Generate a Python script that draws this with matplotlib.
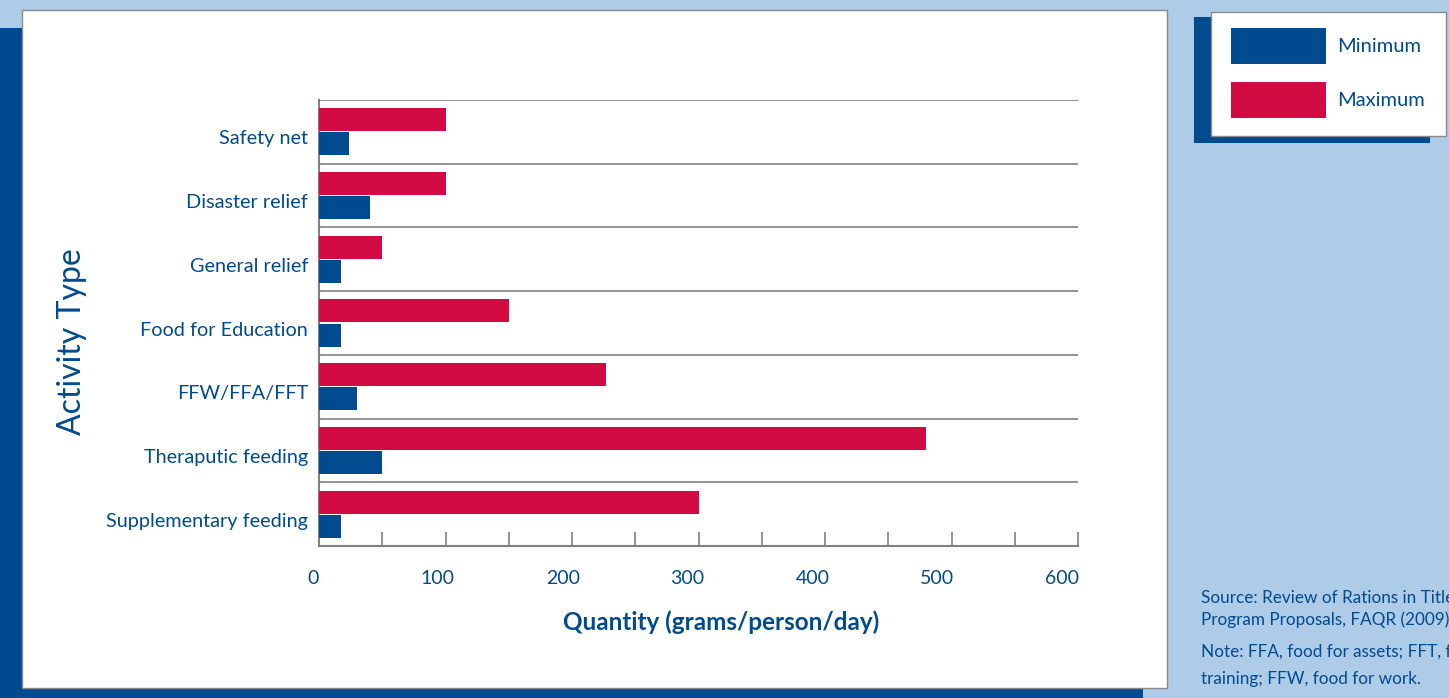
import matplotlib.pyplot as plt
from matplotlib.patches import Rectangle

# data (grams/person/day)
categories = ["Safety net", "Disaster relief", "General relief", "Food for Education",
              "FFW/FFA/FFT", "Theraputic feeding", "Supplementary feeding"]
minimum = [24, 40, 17, 17, 30, 50, 17]
maximum = [100, 100, 50, 150, 227, 480, 300]
xticks = [0, 100, 200, 300, 400, 500, 600]

BLUE = '#004a8f'
RED = '#d20c43'
BG = '#aecbe8'
W, H = 1449, 698

plt.rcParams['font.family'] = ['Lato', 'DejaVu Sans']

fig = plt.figure(figsize=(W / 100, H / 100), dpi=100, facecolor=BG)

def px_rect(x0, y0, x1, y1, **kw):
    # rectangle given in pixel coords (top-left origin)
    fig.patches.append(Rectangle((x0 / W, 1 - y1 / H), (x1 - x0) / W, (y1 - y0) / H,
                                 transform=fig.transFigure, **kw))

# panel with shadow
px_rect(0, 28, 1143, 698, facecolor=BLUE, edgecolor='none', zorder=0)
px_rect(22, 10, 1167, 688, facecolor='white', edgecolor='#8a8a8a', lw=1, zorder=1)

ax = fig.add_axes([319 / W, 1 - 546 / H, (1078 - 319) / W, (546 - 100) / H])
ax.set_facecolor('white')
ax.set_zorder(2)

y = list(range(len(categories)))
h = 0.36
ax.barh([v - 0.19 for v in y], maximum, height=h, color=RED, zorder=3)
ax.barh([v + 0.19 for v in y], minimum, height=h, color=BLUE, zorder=3)

ax.set_xlim(0, 600)
ax.set_ylim(len(categories) - 0.5, -0.5)

for b in [i - 0.5 for i in range(len(categories) + 1)]:
    ax.axhline(b, color='#808080', lw=1.2, zorder=2)

for s in ['top', 'right']:
    ax.spines[s].set_visible(False)
for s in ['left', 'bottom']:
    ax.spines[s].set_color('#808080')
    ax.spines[s].set_linewidth(1.5)

ax.set_xticks(range(0, 601, 50))
ax.set_xticklabels([])
ax.tick_params(axis='x', direction='in', length=10, color='#808080', width=1.2)
ax.set_yticks([])
for i, name in enumerate(categories):
    ax.annotate(name, (0, i), xycoords=('axes fraction', 'data'),
                xytext=(-11, -7), textcoords='offset pixels',
                ha='right', va='center', fontsize=14.3, color=BLUE)

for t in xticks:
    ax.annotate(str(t), (t, 0), xycoords=('data', 'axes fraction'),
                xytext=(-6 - t / 60, -32), textcoords='offset pixels',
                ha='center', va='center', fontsize=14, color=BLUE)

fig.text(721 / W, 1 - 622 / H, "Quantity (grams/person/day)", ha='center', va='center',
         fontsize=17.5, fontweight='bold', color=BLUE)
fig.text(72 / W, 1 - 342 / H, "Activity Type", ha='center', va='center',
         rotation=90, fontsize=23, color=BLUE)

# legend with shadow
px_rect(1194, 17, 1430, 143, facecolor=BLUE, edgecolor='none', zorder=0)
px_rect(1211, 12, 1446, 136, facecolor='white', edgecolor='#8a8a8a', lw=1, zorder=1)
px_rect(1231, 28, 1326, 64, facecolor=BLUE, edgecolor='none', zorder=2)
px_rect(1231, 82, 1326, 118, facecolor=RED, edgecolor='none', zorder=2)
fig.text(1337 / W, 1 - 47 / H, "Minimum", va='center', fontsize=14.5, color=BLUE)
fig.text(1337 / W, 1 - 101 / H, "Maximum", va='center', fontsize=14.5, color=BLUE)

notes = [(598, "Source: Review of Rations in Title II"),
         (620, "Program Proposals, FAQR (2009)."),
         (652, "Note: FFA, food for assets; FFT, food for"),
         (679, "training; FFW, food for work.")]
for ypix, line in notes:
    fig.text(1201 / W, 1 - ypix / H, line, va='center', fontsize=12.3, color=BLUE)

fig.savefig('out.png', dpi=100, facecolor=BG)
